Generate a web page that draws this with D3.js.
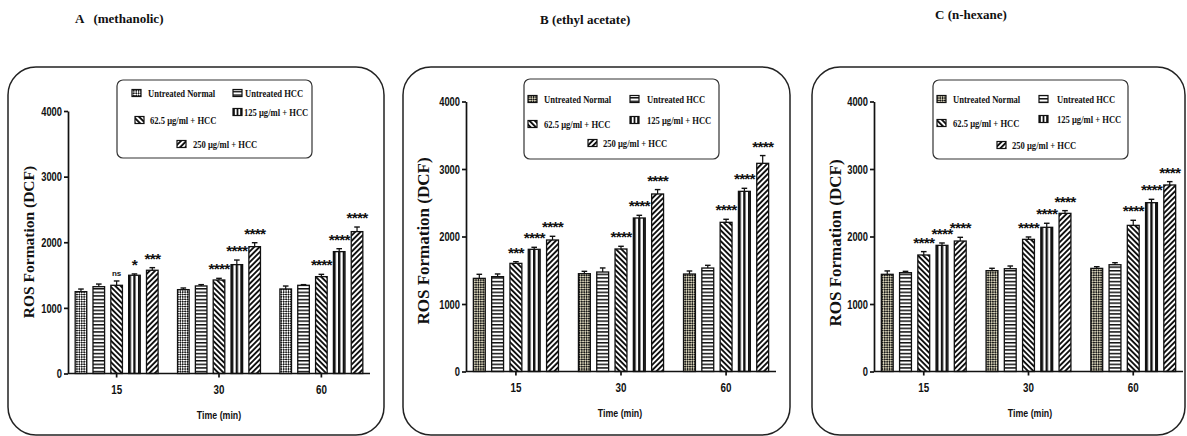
<!DOCTYPE html>
<html>
<head>
<meta charset="utf-8">
<script src="https://cdn.jsdelivr.net/npm/d3@7"></script>
<style>
  body { margin: 0; background: #fff; }
  svg { display: block; }
</style>
</head>
<body>
<div id="chart"></div>
<script>
//-------------------------------------------------------//
//                      DATA                             //
//-------------------------------------------------------//

var timePoints = ["15", "30", "60"];
var groupNames = ["Untreated Normal", "Untreated HCC", "62.5 μg/ml + HCC", "125 μg/ml + HCC", "250 μg/ml + HCC"];
var yTickValues = [0, 1000, 2000, 3000, 4000];
var panelTitles = ["A   (methanolic)", "B (ethyl acetate)", "C (n-hexane)"];

// A - methanolic (rows = time points, columns = groups)
var methanolicMeans = [[1247, 1323, 1344, 1497, 1573], [1278, 1334, 1425, 1659, 1933], [1288, 1344, 1476, 1857, 2162]];
var methanolicErr = [[40, 40, 66, 20, 40], [25, 20, 25, 70, 60], [45, 10, 35, 45, 70]];
var methanolicSig = [["", "", "ns", "*", "***"], ["", "", "****", "****", "****"], ["", "", "****", "****", "****"]];

// B - ethyl acetate
var ethylMeans = [[1380, 1405, 1602, 1810, 1948], [1449, 1474, 1815, 2274, 2630], [1444, 1533, 2210, 2669, 3084]];
var ethylErr = [[60, 40, 25, 30, 55], [35, 60, 40, 40, 65], [45, 40, 45, 45, 115]];
var ethylSig = [["", "", "***", "****", "****"], ["", "", "****", "****", "****"], ["", "", "****", "****", "****"]];

// C - n-hexane
var hexaneMeans = [[1440, 1464, 1726, 1869, 1933], [1494, 1523, 1958, 2136, 2343], [1528, 1582, 2165, 2501, 2763]];
var hexaneErr = [[50, 20, 50, 35, 55], [35, 40, 35, 60, 40], [25, 30, 75, 50, 50]];
var hexaneSig = [["", "", "****", "****", "****"], ["", "", "****", "****", "****"], ["", "", "****", "****", "****"]];


//-------------------------------------------------------//
//                      LAYOUT                           //
//-------------------------------------------------------//

var svgWidth = 1187;
var svgHeight = 436;

var panels = [
    {
        title: panelTitles[0], titlePos: [75, 23],
        means: methanolicMeans, err: methanolicErr, sig: methanolicSig,
        box: [8, 67, 384, 435],
        plot: [68, 370, 111, 373.5],
        legend: [117, 80, 195, 78],
        legendItems: [[15, 13, 31], [116, 13, 128], [18, 40, 33], [116, 32, 127], [60, 64, 76]],
        yTitle: [28, 242, 15.5], xTitle: [219, 415]
    },
    {
        title: panelTitles[1], titlePos: [540, 24],
        means: ethylMeans, err: ethylErr, sig: ethylSig,
        box: [403, 67, 790, 435],
        plot: [466, 776, 101.5, 371.5],
        legend: [524, 79, 195, 80],
        legendItems: [[4, 20, 20], [106, 20, 123], [4, 45, 20], [106, 41, 123], [64, 64, 79]],
        yTitle: [423, 241, 17], xTitle: [620, 413]
    },
    {
        title: panelTitles[2], titlePos: [935, 19],
        means: hexaneMeans, err: hexaneErr, sig: hexaneSig,
        box: [812, 67, 1185, 435],
        plot: [874, 1183, 101.5, 371.5],
        legend: [933, 80, 195, 79],
        legendItems: [[4, 19, 20], [106, 19, 124], [4, 43, 20], [106, 39, 124], [64, 65, 79]],
        yTitle: [835, 243, 17], xTitle: [1030, 413]
    }
];

var serifFont = "'Liberation Serif', 'Times New Roman', serif";
var sansFont = "'Liberation Sans', Arial, sans-serif";

// create svg container
var svg = d3.select("#chart")
    .append("svg")
    .attr("width", svgWidth)
    .attr("height", svgHeight)
    .style("background", "#fff");

//-------------------------------------------------------//
//                      PATTERNS                         //
//-------------------------------------------------------//

var defs = svg.append("defs");

function stripePattern(id, size, thick, angle) {
    var p = defs.append("pattern")
        .attr("id", id)
        .attr("patternUnits", "userSpaceOnUse")
        .attr("width", size)
        .attr("height", size)
        .attr("patternTransform", `rotate(${angle})`);
    p.append("rect").attr("width", size).attr("height", size).attr("fill", "#fff");
    p.append("rect").attr("width", thick).attr("height", size).attr("fill", "#111");
}

function checkerPattern(id, bg) {
    var s = 3.4;
    var p = defs.append("pattern")
        .attr("id", id)
        .attr("patternUnits", "userSpaceOnUse")
        .attr("width", s)
        .attr("height", s)
        .attr("patternTransform", "rotate(45)");
    p.append("rect").attr("width", s).attr("height", s).attr("fill", bg);
    p.append("rect").attr("width", s / 2).attr("height", s / 2).attr("fill", "#1a1a1a");
    p.append("rect").attr("x", s / 2).attr("y", s / 2).attr("width", s / 2).attr("height", s / 2).attr("fill", "#1a1a1a");
}

// horizontal lines
var hp = defs.append("pattern")
    .attr("id", "hlines")
    .attr("patternUnits", "userSpaceOnUse")
    .attr("width", 4)
    .attr("height", 3.6);
hp.append("rect").attr("width", 4).attr("height", 3.6).attr("fill", "#fff");
hp.append("rect").attr("width", 4).attr("height", 1.5).attr("fill", "#111");

// vertical stripes, aligned to the bar
var vp = defs.append("pattern")
    .attr("id", "vlines")
    .attr("patternUnits", "objectBoundingBox")
    .attr("patternContentUnits", "objectBoundingBox")
    .attr("width", 0.4)
    .attr("height", 1);
vp.append("rect").attr("width", 0.4).attr("height", 1).attr("fill", "#fff");
vp.append("rect").attr("width", 0.2).attr("height", 1).attr("fill", "#111");

stripePattern("diagBack", 3.8, 1.9, -45);
stripePattern("diagFwd", 3.8, 1.9, 45);
checkerPattern("checkA", "#ffffff");
checkerPattern("checkB", "#d3ceb4");

//-------------------------------------------------------//
//                      DRAW                             //
//-------------------------------------------------------//

function narrowText(g, x, y, txt, size, family, sx, anchor) {
    return g.append("text")
        .attr("transform", `translate(${x},${y}) scale(${sx},1)`)
        .attr("text-anchor", anchor || "start")
        .attr("dominant-baseline", "central")
        .attr("fill", "#111")
        .style("font-family", family)
        .style("font-weight", "bold")
        .style("font-size", size + "px")
        .text(txt);
}

panels.forEach(function(p, pi) {

    var fills = [pi === 0 ? "url(#checkA)" : "url(#checkB)", "url(#hlines)", "url(#diagBack)", "url(#vlines)", "url(#diagFwd)"];

    var panel = svg.append("g");

    // rounded frame
    panel.append("rect")
        .attr("x", p.box[0])
        .attr("y", p.box[1])
        .attr("width", p.box[2] - p.box[0])
        .attr("height", p.box[3] - p.box[1])
        .attr("rx", 28)
        .attr("fill", "none")
        .attr("stroke", "#222")
        .attr("stroke-width", 1.5);

    // title above the frame
    svg.append("text")
        .attr("x", p.titlePos[0])
        .attr("y", p.titlePos[1])
        .attr("fill", "#111")
        .style("white-space", "pre")
        .style("font-family", serifFont)
        .style("font-weight", "bold")
        .style("font-size", "13px")
        .text(p.title);

    // scales
    var x0 = d3.scaleBand()
        .domain(timePoints)
        .range([p.plot[0], p.plot[1]])
        .paddingInner(0.19)
        .paddingOuter(0.07);

    var x1 = d3.scaleBand()
        .domain(groupNames)
        .range([0, x0.bandwidth()])
        .paddingInner(0.35);

    var y = d3.scaleLinear()
        .domain([0, 4000])
        .range([p.plot[3], p.plot[2]]);

    // table of bars
    var rows = [];
    timePoints.forEach(function(t, i) {
        groupNames.forEach(function(n, j) {
            rows.push({ time: t, name: n, idx: j, mean: p.means[i][j], err: p.err[i][j], sig: p.sig[i][j] });
        });
    });

    var bars = panel.append("g");

    bars.selectAll("rect")
        .data(rows)
        .enter()
        .append("rect")
        .attr("x", d => x0(d.time) + x1(d.name))
        .attr("y", d => y(d.mean))
        .attr("width", x1.bandwidth())
        .attr("height", d => y(0) - y(d.mean))
        .attr("fill", d => fills[d.idx])
        .attr("stroke", "#111")
        .attr("stroke-width", 1.3);

    // error bars (upper half only)
    var cx = d => x0(d.time) + x1(d.name) + x1.bandwidth() / 2;

    bars.selectAll("line.err")
        .data(rows)
        .enter()
        .append("line")
        .attr("class", "err")
        .attr("x1", cx)
        .attr("x2", cx)
        .attr("y1", d => y(d.mean))
        .attr("y2", d => y(d.mean + d.err))
        .attr("stroke", "#111")
        .attr("stroke-width", 1.2);

    bars.selectAll("line.cap")
        .data(rows)
        .enter()
        .append("line")
        .attr("class", "cap")
        .attr("x1", d => cx(d) - 2.8)
        .attr("x2", d => cx(d) + 2.8)
        .attr("y1", d => y(d.mean + d.err))
        .attr("y2", d => y(d.mean + d.err))
        .attr("stroke", "#111")
        .attr("stroke-width", 1.4);

    // significance marks
    bars.selectAll("text.sig")
        .data(rows.filter(d => d.sig !== ""))
        .enter()
        .append("text")
        .attr("class", "sig")
        .attr("x", cx)
        .attr("y", d => y(d.mean + d.err) - (d.sig === "ns" ? 5 : 4))
        .attr("text-anchor", "middle")
        .attr("fill", "#111")
        .style("font-family", sansFont)
        .style("font-weight", "bold")
        .style("letter-spacing", d => d.sig === "ns" ? "0px" : "-0.8px")
        .style("font-size", d => d.sig === "ns" ? "8px" : "15.5px")
        .text(d => d.sig);

    // axes
    var leftAxis = d3.axisLeft(y).tickValues(yTickValues).tickSize(4).tickSizeOuter(0).tickFormat(d3.format("d"));
    var bottomAxis = d3.axisBottom(x0).tickSize(4).tickSizeOuter(0);

    var yAxisG = panel.append("g")
        .attr("transform", `translate(${p.plot[0]},0)`)
        .call(leftAxis);

    var xAxisG = panel.append("g")
        .attr("transform", `translate(0,${p.plot[3]})`)
        .call(bottomAxis);

    // x axis line spans the full plot width
    xAxisG.select(".domain").attr("d", `M${p.plot[0]},0H${p.plot[1]}`);

    [yAxisG, xAxisG].forEach(function(a) {
        a.selectAll(".domain, .tick line").attr("stroke", "#111").attr("stroke-width", 1.7);
        a.selectAll("text")
            .attr("fill", "#111")
            .style("font-family", sansFont)
            .style("font-weight", "bold")
            .style("font-size", "12px");
    });

    yAxisG.selectAll("text")
        .attr("x", -6 / 0.78)
        .attr("dy", "0.35em")
        .attr("transform", "scale(0.78,1)");

    xAxisG.selectAll("text")
        .attr("y", 12)
        .attr("transform", "scale(0.82,1)");

    // axis titles
    panel.append("text")
        .attr("transform", `translate(${p.yTitle[0]},${p.yTitle[1]}) rotate(-90)`)
        .attr("text-anchor", "middle")
        .attr("dominant-baseline", "central")
        .attr("fill", "#111")
        .style("font-family", serifFont)
        .style("font-weight", "bold")
        .style("font-size", p.yTitle[2] + "px")
        .text("ROS Formation (DCF)");

    narrowText(panel, p.xTitle[0], p.xTitle[1], "Time (min)", 11, sansFont, 0.8, "middle");

    // legend
    var lg = panel.append("g")
        .attr("transform", `translate(${p.legend[0]},${p.legend[1]})`);

    lg.append("rect")
        .attr("width", p.legend[2])
        .attr("height", p.legend[3])
        .attr("rx", 6)
        .attr("fill", "#fff")
        .attr("stroke", "#333")
        .attr("stroke-width", 1.2);

    groupNames.forEach(function(name, j) {
        var it = p.legendItems[j];
        lg.append("rect")
            .attr("x", it[0])
            .attr("y", it[1] - 3.5)
            .attr("width", 9)
            .attr("height", 7)
            .attr("fill", fills[j])
            .attr("stroke", "#111")
            .attr("stroke-width", 1.2);
        narrowText(lg, it[2], it[1], name, 11, serifFont, 0.78);
    });
});
</script>
</body>
</html>
